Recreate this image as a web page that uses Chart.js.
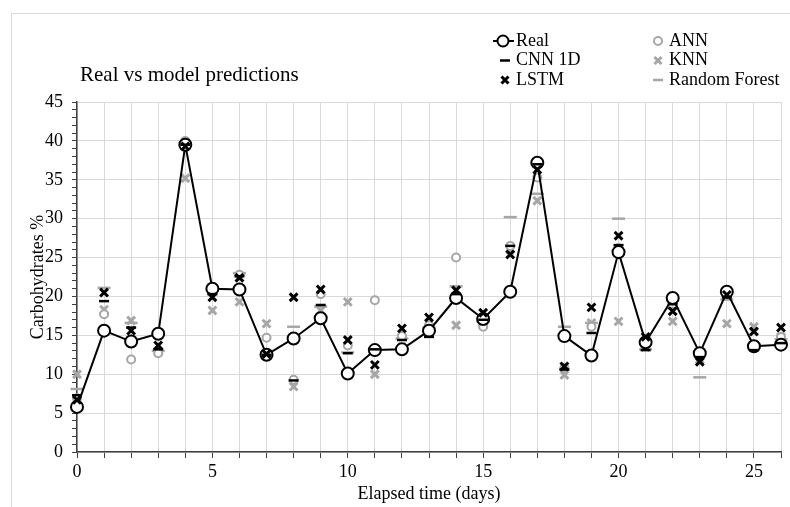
<!DOCTYPE html>
<html>
<head>
<meta charset="utf-8">
<script src="https://cdn.jsdelivr.net/npm/chart.js@4.4.1/dist/chart.umd.min.js"></script>
<style>
  html, body { margin: 0; padding: 0; background: #fff; }
  #caixa { width: 790px; height: 507px; position: relative; }
</style>
</head>
<body>
<div id="caixa"><canvas id="myChart"></canvas></div>
<script>
// dados (dias 0..26)
var dias = [0, 1, 2, 3, 4, 5, 6, 7, 8, 9, 10, 11, 12, 13, 14, 15, 16, 17, 18, 19, 20, 21, 22, 23, 24, 25, 26];
var real = [5.8, 15.6, 14.2, 15.2, 39.5, 21.0, 20.9, 12.5, 14.6, 17.2, 10.1, 13.1, 13.2, 15.6, 19.8, 17.1, 20.6, 37.2, 14.9, 12.4, 25.7, 14.1, 19.8, 12.7, 20.6, 13.6, 13.8];
var cnn1d = [7.3, 19.4, 16.0, 13.2, 39.5, 20.3, 22.6, 12.5, 9.2, 18.9, 12.7, 13.2, 14.4, 14.8, 20.3, 17.0, 26.5, 37.0, 10.6, 15.3, 26.6, 13.1, 19.0, 12.2, 19.9, 13.1, 14.0];
var lstm = [6.7, 20.5, 15.6, 13.7, 39.3, 19.9, 22.4, 12.6, 19.9, 20.9, 14.4, 11.2, 15.9, 17.3, 20.8, 17.9, 25.4, 36.3, 11.0, 18.6, 27.8, 14.8, 18.1, 11.6, 20.2, 15.5, 16.0];
var ann = [6.9, 17.7, 11.9, 12.7, 40.0, 20.8, 22.8, 14.7, 9.3, 20.3, 13.7, 19.5, 14.9, 16.3, 25.0, 16.1, 26.5, 35.3, 10.8, 16.1, 26.2, 13.8, 19.8, 12.4, 20.7, 13.8, 14.8];
var knn = [10.0, 18.3, 16.9, 12.9, 35.2, 18.2, 19.3, 16.5, 8.4, 18.2, 19.3, 10.0, 13.5, 16.0, 16.3, 16.8, 26.0, 32.3, 9.9, 16.6, 16.8, 13.5, 16.8, 11.9, 16.5, 16.1, 14.8];
var randomForest = [8.1, 21.1, 16.6, 13.0, 39.5, 20.8, 23.0, 12.8, 16.1, 18.7, 12.8, 13.0, 14.6, 16.0, 21.3, 16.8, 30.2, 33.2, 16.1, 16.6, 30.0, 13.2, 18.5, 9.6, 19.6, 13.4, 14.5];

var fonte = "'Liberation Serif', 'Times New Roman', serif";
var cinza = "#a6a6a6";

function pontos(valores) {
  var lista = [];
  for (var i = 0; i < dias.length; i++) {
    lista.push({ x: dias[i], y: valores[i] });
  }
  return lista;
}

function marcador(ctx, tipo, cor, x, y) {
  ctx.save();
  ctx.strokeStyle = cor;
  ctx.beginPath();
  if (tipo == "circulo") {
    ctx.lineWidth = 2;
    ctx.fillStyle = "#fff";
    ctx.arc(x, y, 4, 0, Math.PI * 2);
    ctx.fill();
    ctx.stroke();
  } else if (tipo == "traco") {
    ctx.lineWidth = 2.5;
    ctx.moveTo(x - 5, y);
    ctx.lineTo(x + 5, y);
    ctx.stroke();
  } else if (tipo == "xis") {
    ctx.lineWidth = 3;
    ctx.moveTo(x - 3.5, y - 3.5);
    ctx.lineTo(x + 3.5, y + 3.5);
    ctx.moveTo(x + 3.5, y - 3.5);
    ctx.lineTo(x - 3.5, y + 3.5);
    ctx.stroke();
  }
  ctx.restore();
}

var extras = {
  id: "extras",
  beforeDraw: function (chart) {
    var ctx = chart.ctx;
    ctx.save();
    ctx.fillStyle = "#fff";
    ctx.fillRect(0, 0, chart.width, chart.height);
    ctx.strokeStyle = "#d9d9d9";
    ctx.lineWidth = 1;
    ctx.strokeRect(11.5, 13.5, chart.width, chart.height);
    ctx.restore();
  },
  afterDraw: function (chart) {
    var ctx = chart.ctx;
    ctx.save();
    // titulo
    ctx.fillStyle = "#000";
    ctx.font = "21px " + fonte;
    ctx.textAlign = "left";
    ctx.textBaseline = "alphabetic";
    ctx.fillText("Real vs model predictions", 80, 81);

    // legenda
    ctx.font = "18px " + fonte;
    ctx.textBaseline = "middle";
    var linhas = [41, 60.5, 80];
    // Real
    ctx.strokeStyle = "#000";
    ctx.lineWidth = 2;
    ctx.beginPath();
    ctx.moveTo(493, linhas[0]);
    ctx.lineTo(514, linhas[0]);
    ctx.stroke();
    ctx.beginPath();
    ctx.fillStyle = "#fff";
    ctx.arc(503, linhas[0], 5.5, 0, Math.PI * 2);
    ctx.fill();
    ctx.stroke();
    ctx.fillStyle = "#000";
    ctx.fillText("Real", 516, linhas[0]);
    marcador(ctx, "traco", "#000", 505, linhas[1]);
    ctx.fillText("CNN 1D", 516, linhas[1]);
    marcador(ctx, "xis", "#000", 505, linhas[2]);
    ctx.fillText("LSTM", 516, linhas[2]);
    marcador(ctx, "circulo", cinza, 658, linhas[0]);
    ctx.fillText("ANN", 669, linhas[0]);
    marcador(ctx, "xis", cinza, 658, linhas[1]);
    ctx.fillText("KNN", 669, linhas[1]);
    marcador(ctx, "traco", cinza, 658, linhas[2]);
    ctx.fillText("Random Forest", 669, linhas[2]);
    ctx.restore();
  }
};

var data = {
  datasets: [
    {
      label: "LSTM",
      data: pontos(lstm),
      showLine: false,
      pointStyle: "crossRot",
      pointRadius: 5.5,
      pointBorderWidth: 3,
      borderColor: "#000",
      backgroundColor: "#000",
    },
    {
      label: "CNN 1D",
      data: pontos(cnn1d),
      showLine: false,
      pointStyle: "line",
      pointRadius: 5,
      pointBorderWidth: 2.5,
      borderColor: "#000",
      backgroundColor: "#000",
    },
    {
      label: "Real",
      data: pontos(real),
      borderColor: "#000",
      borderWidth: 2,
      pointRadius: 6,
      pointBorderWidth: 2,
      pointBackgroundColor: "#fff",
      pointBorderColor: "#000",
      tension: 0,
    },
    {
      label: "ANN",
      data: pontos(ann),
      showLine: false,
      pointStyle: "circle",
      pointRadius: 4,
      pointBorderWidth: 2,
      borderColor: cinza,
      backgroundColor: "#fff",
    },
    {
      label: "KNN",
      data: pontos(knn),
      showLine: false,
      pointStyle: "crossRot",
      pointRadius: 5.5,
      pointBorderWidth: 3,
      borderColor: cinza,
      backgroundColor: cinza,
    },
    {
      label: "Random Forest",
      data: pontos(randomForest),
      showLine: false,
      pointStyle: "line",
      pointRadius: 6.5,
      pointBorderWidth: 2.5,
      borderColor: cinza,
      backgroundColor: cinza,
    },
  ],
};

var config = {
  type: "line",
  data: data,
  options: {
    responsive: false,
    animation: false,
    clip: false,
    layout: { padding: { top: 102, right: 6, left: 20, bottom: 0 } },
    plugins: {
      legend: { display: false },
      tooltip: { enabled: false },
    },
    scales: {
      x: {
        type: "linear",
        min: 0,
        max: 26,
        afterFit: function (scale) { scale.height = 55; },
        ticks: {
          stepSize: 1,
          autoSkip: false,
          maxRotation: 0,
          padding: 3,
          color: "#000",
          font: { family: fonte, size: 18 },
          callback: function (v) { return v % 5 === 0 ? v : ""; },
        },
        grid: { color: "#d9d9d9", tickColor: "#404040", tickLength: 6, lineWidth: 1 },
        border: { color: "#404040", width: 1.5 },
        title: {
          display: true,
          text: "Elapsed time (days)",
          color: "#000",
          font: { family: fonte, size: 18 },
          padding: { top: 0, bottom: 2 },
        },
      },
      y: {
        min: 0,
        max: 45,
        afterFit: function (scale) { scale.width = 57; },
        ticks: {
          stepSize: 1,
          autoSkip: false,
          padding: 9,
          color: "#000",
          font: { family: fonte, size: 18 },
          callback: function (v) { return v % 5 === 0 ? v : ""; },
        },
        grid: {
          color: function (c) {
            return c.tick && c.tick.value % 5 === 0 ? "#d9d9d9" : "rgba(0,0,0,0)";
          },
          tickColor: "#404040",
          tickLength: 5,
        },
        border: { color: "#404040", width: 1.5 },
        title: {
          display: true,
          text: "Carbohydrates %",
          color: "#000",
          font: { family: fonte, size: 18 },
          padding: { top: 7, bottom: 0 },
        },
      },
    },
  },
  plugins: [extras],
};

var canvas = document.getElementById("myChart");
canvas.width = 790;
canvas.height = 507;
var myChart = new Chart(canvas, config);
</script>
</body>
</html>
